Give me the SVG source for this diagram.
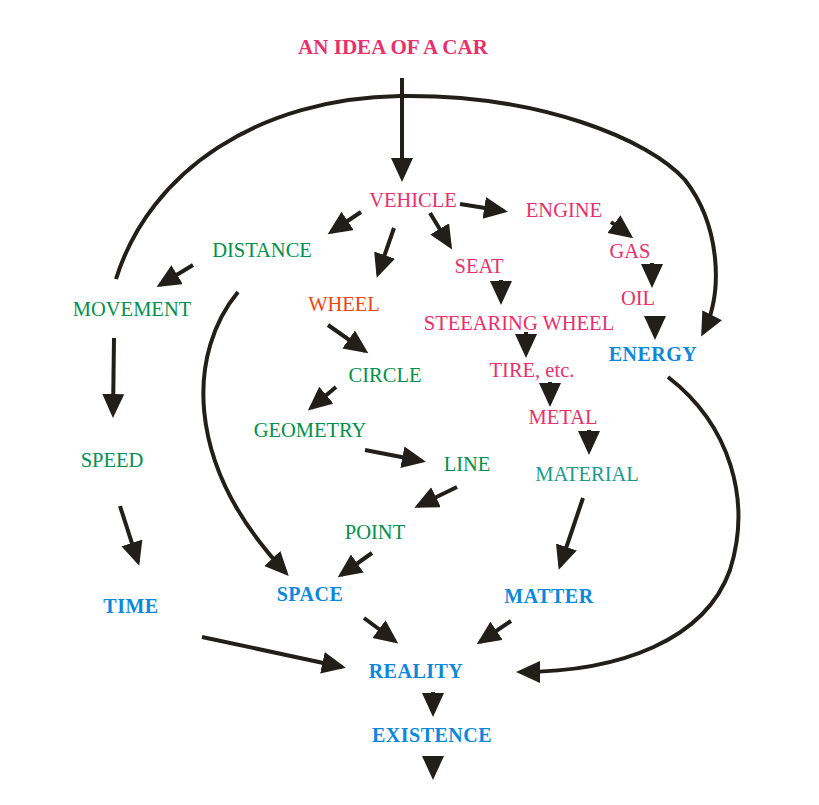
<svg xmlns="http://www.w3.org/2000/svg" width="819" height="805" viewBox="0 0 819 805">
<style>
text{font-family:"Liberation Serif","Times New Roman",serif;font-size:20.5px;text-anchor:middle}
.pk{fill:#e8306c}
.gr{fill:#00904c}
.or{fill:#ea4612}
.tl{fill:#1f9a8a}
.bl{fill:#0b88dc;font-weight:bold;letter-spacing:0.5px;font-size:20px}
.ti{fill:#e8306c;font-weight:bold;font-size:20px}
.c{fill:none;stroke:#221f1b;stroke-width:4;marker-end:url(#ah)}
</style>
<defs>
<marker id="ah" markerUnits="userSpaceOnUse" markerWidth="26" markerHeight="24" refX="20" refY="11" orient="auto">
<path d="M0,0 L24,11 L0,22 z" fill="#221f1b"/>
</marker>
</defs>
<rect width="819" height="805" fill="#fff"/>
<g id="connectors">
<path class="c" d="M402,78 L402,178"/>
<path class="c" d="M361,212 L331,232"/>
<path class="c" d="M394,228 L378,274"/>
<path class="c" d="M430,213 L450,246"/>
<path class="c" d="M460,204 L504,211"/>
<path class="c" d="M611,222 L630,236"/>
<path class="c" d="M652,263 L652,284"/>
<path class="c" d="M655,317 L655,336"/>
<path class="c" d="M501,280 L501,301"/>
<path class="c" d="M526,332 L526,354"/>
<path class="c" d="M550,382 L550,403"/>
<path class="c" d="M589,430 L589,451"/>
<path class="c" d="M193,265 L160,285"/>
<path class="c" d="M114,338 L113,414"/>
<path class="c" d="M120,506 L138,562"/>
<path class="c" d="M328,325 L365,351"/>
<path class="c" d="M336,387 L311,408"/>
<path class="c" d="M365,450 L422,461"/>
<path class="c" d="M457,487 L418,506"/>
<path class="c" d="M372,553 L341,575"/>
<path class="c" d="M583,498 L560,566"/>
<path class="c" d="M364,618 L395,641"/>
<path class="c" d="M511,621 L480,642"/>
<path class="c" d="M202,637 L342,667"/>
<path class="c" d="M433,692 L433,713"/>
<path class="c" d="M433,757 L433,776"/>
<path class="c" d="M116,279 C150,170 260,98 400,96 C540,94 650,140 685,180 C720,225 724,292 703,333"/>
<path class="c" d="M238,292 C190,350 180,460 286,573"/>
<path class="c" d="M668,377 C730,425 752,500 730,570 C705,640 620,672 520,672"/>
</g>
<g id="n-car"><text class="ti" x="393" y="54" textLength="190" lengthAdjust="spacingAndGlyphs">AN IDEA OF A CAR</text></g>
<g id="n-vehicle"><text class="pk" x="413" y="207">VEHICLE</text></g>
<g id="n-engine"><text class="pk" x="564" y="217">ENGINE</text></g>
<g id="n-distance"><text class="gr" x="262" y="257">DISTANCE</text></g>
<g id="n-seat"><text class="pk" x="479" y="273">SEAT</text></g>
<g id="n-gas"><text class="pk" x="630" y="258">GAS</text></g>
<g id="n-movement"><text class="gr" x="132" y="316">MOVEMENT</text></g>
<g id="n-wheel"><text class="or" x="344" y="311">WHEEL</text></g>
<g id="n-oil"><text class="pk" x="638" y="305">OIL</text></g>
<g id="n-steering"><text class="pk" x="519" y="330">STEEARING WHEEL</text></g>
<g id="n-energy"><text class="bl" x="653" y="361">ENERGY</text></g>
<g id="n-circle"><text class="gr" x="385" y="382">CIRCLE</text></g>
<g id="n-tire"><text class="pk" x="532" y="377">TIRE, etc.</text></g>
<g id="n-geometry"><text class="gr" x="310" y="437">GEOMETRY</text></g>
<g id="n-metal"><text class="pk" x="563" y="424">METAL</text></g>
<g id="n-speed"><text class="gr" x="112" y="467">SPEED</text></g>
<g id="n-line"><text class="gr" x="467" y="471">LINE</text></g>
<g id="n-material"><text class="tl" x="587" y="481">MATERIAL</text></g>
<g id="n-point"><text class="gr" x="375" y="539">POINT</text></g>
<g id="n-time"><text class="bl" x="131" y="613">TIME</text></g>
<g id="n-space"><text class="bl" x="310" y="601">SPACE</text></g>
<g id="n-matter"><text class="bl" x="549" y="603">MATTER</text></g>
<g id="n-reality"><text class="bl" x="416" y="678">REALITY</text></g>
<g id="n-existence"><text class="bl" x="432" y="742">EXISTENCE</text></g>
</svg>
